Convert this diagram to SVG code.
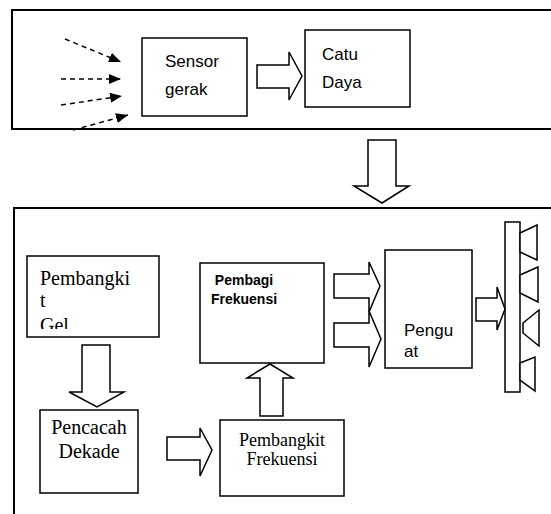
<svg xmlns="http://www.w3.org/2000/svg" width="551" height="514" viewBox="0 0 551 514">
<style>
.frame{fill:#fff;stroke:#000;stroke-width:2}
.box{fill:#fff;stroke:#000;stroke-width:1.5}
.blk{fill:#fff;stroke:#000;stroke-width:1.5;stroke-linejoin:miter}
.dash{fill:none;stroke:#000;stroke-width:1.5;stroke-dasharray:5,4}
.sans{font-family:"Liberation Sans",Arial,sans-serif;font-size:17px;fill:#000}
.bold{font-family:"Liberation Sans",Arial,sans-serif;font-size:14px;font-weight:bold;fill:#000}
.serif{font-family:"Liberation Serif","Times New Roman",serif;font-size:20px;fill:#000}
.serif2{font-family:"Liberation Serif","Times New Roman",serif;font-size:18px;fill:#000}
</style>
<defs>
<marker id="ah" markerWidth="12" markerHeight="10" refX="12" refY="5" orient="auto" markerUnits="userSpaceOnUse">
<polygon points="0,0 12,5 0,10" fill="#000"/>
</marker>
<clipPath id="clipGel"><rect x="27" y="256" width="132" height="73"/></clipPath>
</defs>
<rect class="frame" x="12" y="10" width="560" height="119"/>
<rect class="frame" x="14" y="208" width="560" height="320"/>
<g id="sensor">
<rect class="box" x="142" y="38" width="105" height="78"/>
<text class="sans" x="165" y="67">Sensor</text>
<text class="sans" x="165" y="95">gerak</text>
</g>
<g id="catu">
<rect class="box" x="305" y="30" width="105" height="77"/>
<text class="sans" x="322" y="60">Catu</text>
<text class="sans" x="322" y="88">Daya</text>
</g>
<g id="pembangkit-gel">
<rect class="box" x="27" y="256" width="132" height="81"/>
<g clip-path="url(#clipGel)">
<text class="serif" x="40" y="285">Pembangki</text>
<text class="serif" x="40" y="307">t</text>
<text class="serif" x="40" y="332">Gel</text>
</g>
</g>
<g id="pencacah">
<rect class="box" x="40" y="410" width="98" height="83"/>
<text class="serif" x="89" y="434" text-anchor="middle">Pencacah</text>
<text class="serif" x="89" y="458" text-anchor="middle">Dekade</text>
</g>
<g id="pembangkit-frek">
<rect class="box" x="220" y="420" width="124" height="76"/>
<text class="serif2" x="282" y="446" text-anchor="middle">Pembangkit</text>
<text class="serif2" x="282" y="465" text-anchor="middle">Frekuensi</text>
</g>
<g id="pembagi">
<rect class="box" x="200" y="263" width="124" height="100"/>
<text class="bold" x="244" y="285" text-anchor="middle">Pembagi</text>
<text class="bold" x="244" y="304" text-anchor="middle">Frekuensi</text>
</g>
<g id="penguat">
<rect class="box" x="385" y="250" width="87" height="118"/>
<text class="sans" x="404" y="336">Pengu</text>
<text class="sans" x="404" y="357">at</text>
</g>
<g id="speaker">
<rect class="box" x="505" y="222" width="15" height="170"/>
<polygon class="box" points="520,233 537,225 537,260 520,252"/>
<polygon class="box" points="520,275 538,267 538,302 520,293"/>
<polygon class="box" points="523,323 539,310 539,346 523,333"/>
<polygon class="box" points="520,363 535,357 535,391 520,380"/>
</g>
<g id="connectors">
<line class="dash" x1="65" y1="39" x2="121" y2="62" marker-end="url(#ah)"/>
<line class="dash" x1="61" y1="79" x2="121" y2="79" marker-end="url(#ah)"/>
<line class="dash" x1="61" y1="105" x2="122" y2="96" marker-end="url(#ah)"/>
<line class="dash" x1="73" y1="130" x2="128" y2="115" marker-end="url(#ah)"/>
<polygon class="blk" points="257,65 289,65 289,52 302,76 289,100 289,88 257,88"/>
<polygon class="blk" points="368,140 396,140 396,186 409,186 382,203 354,186 368,186"/>
<polygon class="blk" points="82,345 110,345 110,392 124,392 97,407 69,392 82,392"/>
<polygon class="blk" points="167,437 200,437 200,428 212,450 200,476 200,460 167,460"/>
<polygon class="blk" points="260,416 283,416 283,378 293,378 270,364 247,378 260,378"/>
<polygon class="blk" points="334,274 369,274 369,262 380,286 369,312 369,298 334,298"/>
<polygon class="blk" points="334,323 369,323 369,311 381,339 369,367 369,347 334,347"/>
<polygon class="blk" points="476,298 497,298 497,287 505,309 497,330 497,321 476,321"/>
</g>
</svg>
